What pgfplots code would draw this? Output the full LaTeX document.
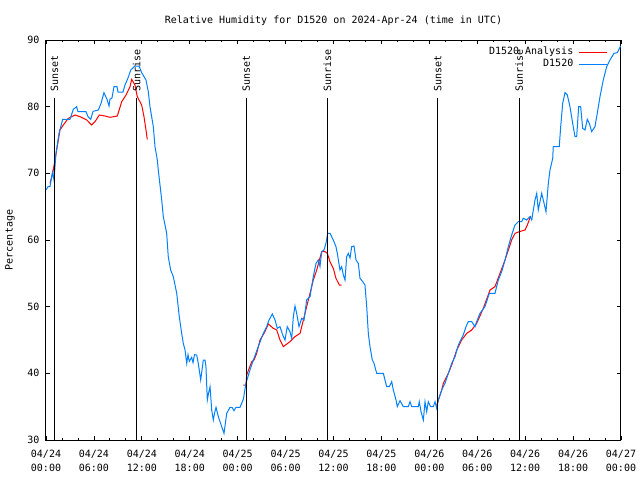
\documentclass[border=0pt]{standalone}
\usepackage{pgfplots}
\pgfplotsset{compat=1.18}
\usepackage{fontspec}
\setmainfont{DejaVu Sans Mono}
\definecolor{rhblue}{RGB}{0,128,255}
\definecolor{rhred}{RGB}{255,0,0}
\begin{document}
\begin{tikzpicture}[font=\fontsize{10}{13.5}\selectfont]
\useasboundingbox (0,0) rectangle (640pt,480pt);
\begin{axis}[
  at={(46pt,40pt)}, anchor=south west,
  scale only axis, width=575pt, height=400pt,
  xmin=0, xmax=72, ymin=30, ymax=90,
  xtick={0,6,...,72},
  minor x tick num=2,
  xticklabels={{04/24\\00:00},{04/24\\06:00},{04/24\\12:00},{04/24\\18:00},{04/25\\00:00},{04/25\\06:00},{04/25\\12:00},{04/25\\18:00},{04/26\\00:00},{04/26\\06:00},{04/26\\12:00},{04/26\\18:00},{04/27\\00:00}},
  xticklabel style={align=center, font=\fontsize{10}{13.5}\selectfont, yshift=-7pt},
  ytick={30,40,...,90},
  yticklabel style={xshift=-3pt},
  /pgf/number format/assume math mode=true,
  tick align=inside,
  major tick length=4pt, minor tick length=2pt,
  tick style={black, line width=0.8pt},
  axis line style={black, line width=1pt},
  title={Relative Humidity for D1520 on 2024-Apr-24 (time in UTC)},
  title style={at={(0.5,1)}, anchor=center, yshift=13pt},
  ylabel={Percentage},
  ylabel style={at={(axis description cs:-0.0626,0.5)}, anchor=center},
  legend plot pos=right,
  legend cell align=right,
  legend image code/.code={\draw[#1] (0pt,0pt) -- (28pt,0pt);},
  legend style={draw=none, fill=none, at={(1,1)}, anchor=north east, xshift=-10pt, yshift=-4pt,
    row sep=0pt, column sep=4pt,
    nodes={inner sep=1.5pt, text height=7pt, text depth=2pt}},
  unbounded coords=jump,
]
% Analysis (red)
\addplot[rhred, line width=1pt] coordinates {
(0.5,68.5) (0.84,70) (1.34,73.5) (1.75,76.5) (2.17,77.25) (2.79,78.25) (3.63,78.75) (4.26,78.5)
(5.10,78) (5.72,77.25) (6.14,77.75) (6.67,78.75) (7.39,78.6) (8.01,78.4) (8.93,78.6) (9.48,80.75)
(10.02,81.75) (10.52,83) (10.73,84.1) (11.14,83.25) (11.43,81.5) (11.98,80.25) (12.27,78.5)
(12.52,76.5) (12.68,75.1)
(18,nan)
(24.71,38.25) (25.04,38.25) (25.13,39.75) (25.76,41.75) (26.05,42) (26.38,43) (26.80,45)
(27.42,46.25) (27.84,47.4) (28.46,46.75) (28.89,46.5) (29.30,45) (29.72,44) (30.55,44.75)
(31.18,45.5) (31.81,46) (32.23,48) (32.64,50) (33.06,52) (33.47,54) (33.90,55.5) (34.52,58.25)
(34.94,58.25) (35.23,58) (35.56,56.75) (35.98,55.75) (36.31,54.25) (36.73,53.25) (37.03,53.25)
(42,nan)
(48.92,35.2) (49.55,37.5) (49.75,38.5) (50.38,40) (50.80,41.25) (51.43,43.5) (52.05,45)
(52.68,46) (53.31,46.5) (53.93,47.5) (54.76,49.75) (55.60,52.5) (56.22,53) (56.85,55)
(57.48,57) (57.89,58.5) (58.31,60) (58.73,61) (59.27,61.25) (59.98,61.5) (60.27,62.25) (60.69,63.6)
};
\addlegendentry{D1520 Analysis}
% Observations (blue)
\addplot[rhblue, line width=1pt] coordinates {
(0,67.5) (0.25,68) (0.5,68) (0.81,70.2) (1.0,69) (1.25,73) (1.63,76) (2.09,78.1) (3.0,78.1)
(3.42,79.6) (3.84,80) (4.0,79.25) (5.01,79.25) (5.26,78.5) (5.6,78.1) (5.89,79.3) (6.55,79.5)
(6.89,80.5) (7.26,82.1) (7.64,81.1) (7.89,80.1) (8.01,81.1) (8.26,81.3) (8.51,83) (8.89,83)
(9.02,82.2) (9.64,82.2) (9.89,83.25) (10.27,84.3) (10.61,85.5) (11.14,86.1) (11.65,86.1)
(11.98,85.1) (12.52,84) (12.81,82.25) (13.02,80) (13.44,77) (13.65,74) (13.94,72) (14.06,70.5)
(14.49,66) (14.69,63.5) (15.11,61) (15.31,57.5) (15.61,55.5) (15.94,54.5) (16.37,52) (16.69,48.5)
(16.99,46) (17.19,44.5) (17.41,43.5) (17.62,41.5) (17.78,42.8) (17.94,41.8) (18.24,42.4)
(18.41,41.6) (18.59,42.8) (18.87,42.75) (19.07,41.5) (19.37,39) (19.70,42) (19.91,42) (20.03,41)
(20.20,36) (20.35,37) (20.54,38) (20.75,34.5) (20.95,33) (21.10,34) (21.29,34.9) (21.58,33.5)
(22.00,32) (22.29,31) (22.63,34) (23.04,34.9) (23.29,34.9) (23.54,34.4) (23.79,34.9) (24.29,34.9)
(24.50,35.5) (24.71,36.1) (25.04,38.5) (25.54,40.5) (25.96,42) (26.58,44) (27.21,46) (27.64,47)
(27.84,47.75) (28.05,48.25) (28.34,48.9) (28.68,48) (28.96,46.75) (29.30,47) (29.64,45.75)
(29.93,45) (30.21,47) (30.55,46.25) (30.77,45.25) (30.97,48.5) (31.18,50.1) (31.39,49) (31.68,47)
(32.02,48.25) (32.31,48) (32.64,51) (33.06,51.5) (33.47,54.5) (33.81,56.5) (34.10,57) (34.31,56)
(34.52,58.25) (34.81,58.5) (35.06,59.5) (35.27,61) (35.56,61) (35.77,60.5) (36.06,59.75)
(36.31,59) (36.48,58) (36.81,55.5) (37.03,56) (37.23,54.75) (37.44,54) (37.65,57.5) (37.85,58)
(38.07,57.3) (38.28,59) (38.57,59.1) (38.82,57) (39.11,56.5) (39.32,54.25) (39.66,53.75)
(39.94,53.25) (40.16,50) (40.36,46) (40.57,44) (40.86,42) (41.07,41.5) (41.41,40) (42.24,40)
(42.66,38) (42.99,38) (43.29,38.75) (43.49,37.5) (43.83,36) (43.99,35) (44.33,35.9) (44.74,35)
(45.37,35) (45.58,35.75) (45.79,35) (46.62,35) (46.74,35.75) (46.96,34.25) (47.25,33) (47.46,35.75)
(47.67,34.25) (47.87,35.75) (48.15,35) (48.50,35) (48.71,35.75) (48.92,34.75) (49.12,36)
(49.55,37.5) (49.96,38.5) (50.38,40) (50.80,41.5) (51.22,42.5) (51.63,44.25) (52.25,45.75)
(52.59,47) (52.88,47.75) (53.31,47.75) (53.72,47) (53.93,47.75) (54.34,49) (54.97,50) (55.51,52)
(56.22,52) (56.64,54) (57.06,55.25) (57.48,57) (57.89,59) (58.31,60.75) (58.73,62.25) (59.14,62.75)
(59.57,62.75) (59.77,63.25) (60.19,63) (60.61,63.5) (60.82,63) (61.23,66) (61.45,67) (61.64,64.5)
(62.07,67) (62.27,66) (62.61,64.25) (62.90,68.5) (63.11,70.5) (63.45,72.25) (63.52,74) (64.27,74)
(64.45,77) (64.70,80.5) (64.99,82.1) (65.28,81.75) (65.61,80) (65.95,77.5) (66.24,75.5) (66.45,75.5)
(66.70,80) (66.95,80) (67.20,76.75) (67.49,76.5) (67.78,78.1) (68.03,77.5) (68.33,76.25) (68.74,77)
(69.03,79) (69.37,81.5) (69.78,84) (70.21,86) (70.62,87) (71.12,88) (71.54,88.1) (71.96,89.1)
};
\addlegendentry{D1520}
% Sunset / sunrise markers
\addplot[black, line width=1pt, forget plot] coordinates {(1.05,30) (1.05,81.3)};
\addplot[black, line width=1pt, forget plot] coordinates {(11.35,30) (11.35,81.3)};
\addplot[black, line width=1pt, forget plot] coordinates {(25.08,30) (25.08,81.3)};
\addplot[black, line width=1pt, forget plot] coordinates {(35.25,30) (35.25,81.3)};
\addplot[black, line width=1pt, forget plot] coordinates {(49.05,30) (49.05,81.3)};
\addplot[black, line width=1pt, forget plot] coordinates {(59.25,30) (59.25,81.3)};
\node[rotate=90, anchor=west, inner sep=0pt] at (axis cs:1.05,82.2) {Sunset};
\node[rotate=90, anchor=west, inner sep=0pt] at (axis cs:11.35,82.2) {Sunrise};
\node[rotate=90, anchor=west, inner sep=0pt] at (axis cs:25.08,82.2) {Sunset};
\node[rotate=90, anchor=west, inner sep=0pt] at (axis cs:35.25,82.2) {Sunrise};
\node[rotate=90, anchor=west, inner sep=0pt] at (axis cs:49.05,82.2) {Sunset};
\node[rotate=90, anchor=west, inner sep=0pt] at (axis cs:59.25,82.2) {Sunrise};
\end{axis}
\end{tikzpicture}
\end{document}
